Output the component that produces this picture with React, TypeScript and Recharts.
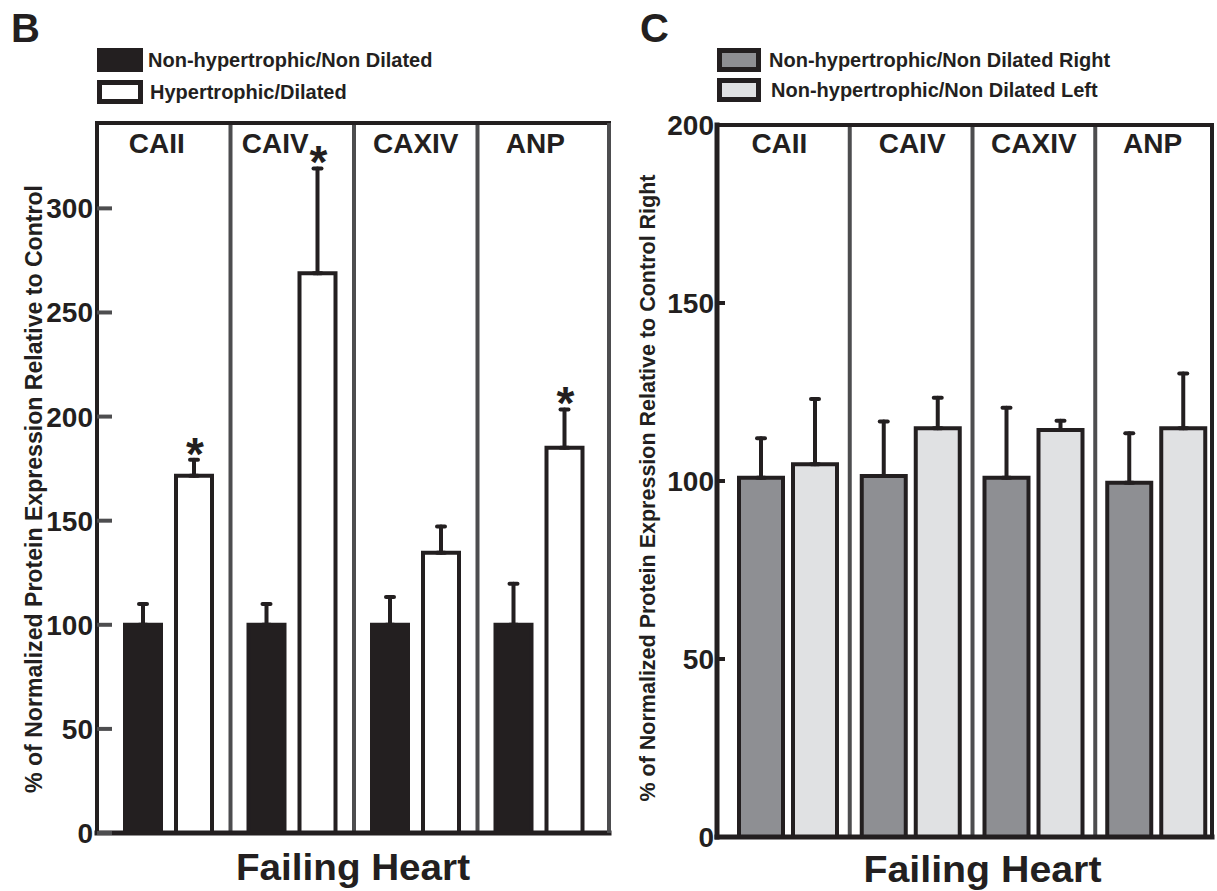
import React from 'react';
import { BarChart, Bar, XAxis, YAxis, ErrorBar, ReferenceLine, Legend, LabelList } from 'recharts';

const categories = ['CAII', 'CAIV', 'CAXIV', 'ANP'];

// Panel B
const bNonHyp = [100, 100, 100, 100];
const bNonHypErr = [10, 10, 13.4, 19.7];
const bHyp = [171.6, 268.8, 134.6, 185];
const bHypErr = [7.7, 50.4, 12.6, 18.4];
const bSignificant = [true, true, false, true];
const bTicks = [0, 50, 100, 150, 200, 250, 300];
const bDomainMax = 341;
const bSeriesOrder = ['nonHyp', 'hyp'];

// Panel C
const cRight = [100.9, 101.4, 100.9, 99.5];
const cRightErr = [11.1, 15.3, 19.7, 13.9];
const cLeft = [104.7, 114.8, 114.3, 114.8];
const cLeftErr = [18.3, 8.6, 2.6, 15.4];
const cTicks = [0, 50, 100, 150, 200];
const cDomainMax = 200;
const cSeriesOrder = ['right', 'left'];

const yLabelB = '% of Normalized Protein Expression Relative to Control';
const yLabelC = '% of Normalized Protein Expression Relative to Control Right';
const xLabel = 'Failing Heart';

// layout: small horizontal nudges of the in-plot category captions (px)
const captionNudgeB = [-12, -17, 0, -4];
const captionNudgeC = [-9, 1, 0, -4];

const dataB = categories.map((cat, i) => ({
  cat,
  nonHyp: bNonHyp[i],
  nonHypErr: [0, bNonHypErr[i]],
  hyp: bHyp[i],
  hypErr: [0, bHypErr[i]],
}));

const dataC = categories.map((cat, i) => ({
  cat,
  right: cRight[i],
  rightErr: [0, cRightErr[i]],
  left: cLeft[i],
  leftErr: [0, cLeftErr[i]],
}));

const FONT = "'Liberation Sans', Arial, Helvetica, sans-serif";
const INK = '#231f20';
const DIV = '#4d4d4f';

const tickFont = { fontSize: 28, fontWeight: 700, fill: INK, fontFamily: FONT };

const CatTick = (props: any) => {
  const { x, y, payload, nudges, shiftY, index } = props;
  const i = typeof payload.index === 'number' ? payload.index : index;
  const dx = (nudges && nudges[i]) || 0;
  return (
    <text
      x={x + dx}
      y={y + shiftY}
      textAnchor="middle"
      fontSize={28}
      fontWeight="bold"
      fontFamily={FONT}
      fill={INK}
    >
      {payload.value}
    </text>
  );
};

const makeYLabel = (text: string, gap: number, shift: number, len: number, size: number) => (props: any) => {
  const vb = props.viewBox || { x: 96, y: 123, width: 1, height: 710 };
  const x = vb.x + vb.width - gap;
  const cy = vb.y + vb.height / 2 + shift;
  return (
    <text
      transform={`translate(${x},${cy}) rotate(-90)`}
      textAnchor="middle"
      style={{ fontSize: size, fontWeight: 700, fontFamily: FONT }}
      fill={INK}
      textLength={len}
      lengthAdjust="spacingAndGlyphs"
    >
      {text}
    </text>
  );
};

const makeXLabel = (text: string, shiftX: number, shiftY: number, len: number) => (props: any) => {
  const vb = props.viewBox;
  return (
    <text
      x={vb.x + vb.width / 2 + shiftX}
      y={vb.y + shiftY}
      textAnchor="middle"
      style={{ fontSize: 36, fontWeight: 700, fontFamily: FONT }}
      fill={INK}
      textLength={len}
      lengthAdjust="spacingAndGlyphs"
    >
      {text}
    </text>
  );
};

const LegendBlock = (props: any) => {
  const { payload, order, letter, letterX, boxX, boxW, boxH, textX, row0, rowStep } = props;
  const items = [...(payload || [])].sort(
    (a: any, b: any) => order.indexOf(a.dataKey) - order.indexOf(b.dataKey)
  );
  return (
    <svg width={600} height={112} style={{ display: 'block' }}>
      <text x={letterX} y={42} fontSize={40} fontWeight="bold" fontFamily={FONT} fill={INK}>
        {letter}
      </text>
      {items.map((p: any, i: number) => {
        const cy = row0 + i * rowStep;
        return (
          <g key={i}>
            <rect x={boxX} y={cy - boxH / 2} width={boxW} height={boxH} fill={p.color} stroke={INK} strokeWidth={5} />
            <text
              x={textX + i * 2}
              y={cy}
              dominantBaseline="central"
              fontSize={20}
              fontWeight="bold"
              fontFamily={FONT}
              fill={INK}
            >
              {p.value}
            </text>
          </g>
        );
      })}
    </svg>
  );
};

const Star = (props: any) => {
  const { x, y, width, height, index } = props;
  if (!bSignificant[index]) return null;
  const pxPerUnit = height / bHyp[index];
  const bottom = y + height;
  const capY = bottom - (bHyp[index] + bHypErr[index]) * pxPerUnit;
  return (
    <text
      x={x + width / 2 + 1}
      y={capY + 10}
      textAnchor="middle"
      fontSize={46}
      fontWeight="bold"
      fontFamily={FONT}
      fill={INK}
    >
      *
    </text>
  );
};

const errProps = { width: 4, strokeWidth: 4, stroke: INK, strokeLinecap: 'round' as any };

export default function App() {
  return (
    <div style={{ position: 'absolute', left: 0, top: 0, width: 1217, height: 891, background: '#fff' }}>
      <div style={{ position: 'absolute', left: 0, top: 0, width: 620, height: 891 }}>
        <BarChart
          width={620}
          height={891}
          data={dataB}
          margin={{ top: 122, right: 10, bottom: 57, left: 96 }}
          barGap={15}
          barSize={36}
        >
          <XAxis
            dataKey="cat"
            height={1}
            tick={false}
            tickLine={false}
            axisLine={{ stroke: INK, strokeWidth: 5, strokeLinecap: 'square' }}
            padding={{ left: 10, right: 8 }}
            label={makeXLabel(xLabel, 0, 47, 234)}
          />
          <XAxis
            xAxisId="top"
            orientation="top"
            dataKey="cat"
            height={1}
            tickLine={false}
            tickSize={0}
            tickMargin={0}
            interval={0}
            axisLine={{ stroke: INK, strokeWidth: 4, strokeLinecap: 'square' }}
            padding={{ left: 10, right: 8 }}
            tick={<CatTick nudges={captionNudgeB} shiftY={30} />}
          />
          <YAxis
            domain={[0, bDomainMax]}
            ticks={bTicks}
            interval={0}
            width={1}
            tickSize={-15}
            tickMargin={19}
            tickLine={{ stroke: DIV, strokeWidth: 4 }}
            axisLine={{ stroke: INK, strokeWidth: 4, strokeLinecap: 'square' }}
            tick={tickFont}
            label={makeYLabel(yLabelB, 55, 11, 608, 23)}
          />
          <YAxis
            yAxisId="right"
            orientation="right"
            domain={[0, bDomainMax]}
            ticks={bTicks}
            width={1}
            tick={false}
            tickLine={false}
            axisLine={{ stroke: DIV, strokeWidth: 4 }}
          />
          {categories.slice(1).map((c) => (
            <ReferenceLine key={c} x={c} position="start" stroke={DIV} strokeWidth={4} />
          ))}
          <Bar
            dataKey="nonHyp"
            name="Non-hypertrophic/Non Dilated"
            fill={INK}
            stroke={INK}
            strokeWidth={4}
            isAnimationActive={false}
          >
            <ErrorBar dataKey="nonHypErr" direction="y" {...errProps} />
          </Bar>
          <Bar
            dataKey="hyp"
            name="Hypertrophic/Dilated"
            fill="#ffffff"
            stroke={INK}
            strokeWidth={4}
            isAnimationActive={false}
          >
            <ErrorBar dataKey="hypErr" direction="y" {...errProps} />
            <LabelList dataKey="hyp" content={<Star />} />
          </Bar>
          <Legend
            layout="vertical"
            verticalAlign="middle"
            align="center"
            wrapperStyle={{ top: 0, left: 0, width: 600, height: 112 }}
            content={
              <LegendBlock
                order={bSeriesOrder}
                letter="B"
                letterX={11}
                boxX={99.5}
                boxW={41}
                boxH={19}
                textX={148}
                row0={60}
                rowStep={32}
              />
            }
          />
        </BarChart>
      </div>
      <div style={{ position: 'absolute', left: 620, top: 0, width: 597, height: 891 }}>
        <BarChart
          width={597}
          height={891}
          data={dataC}
          margin={{ top: 124, right: 4, bottom: 53, left: 96 }}
          barGap={10}
          barSize={44}
        >
          <XAxis
            dataKey="cat"
            height={1}
            tick={false}
            tickLine={false}
            axisLine={{ stroke: INK, strokeWidth: 5, strokeLinecap: 'square' }}
            padding={{ left: 10, right: -6 }}
            label={makeXLabel(xLabel, 18, 45, 238)}
          />
          <XAxis
            xAxisId="top"
            orientation="top"
            dataKey="cat"
            height={1}
            tickLine={false}
            tickSize={0}
            tickMargin={0}
            interval={0}
            axisLine={{ stroke: INK, strokeWidth: 4, strokeLinecap: 'square' }}
            padding={{ left: 10, right: -6 }}
            tick={<CatTick nudges={captionNudgeC} shiftY={28} />}
          />
          <YAxis
            domain={[0, cDomainMax]}
            ticks={cTicks}
            interval={0}
            width={1}
            tickSize={-8}
            tickMargin={11}
            tickLine={{ stroke: INK, strokeWidth: 4 }}
            axisLine={{ stroke: INK, strokeWidth: 5, strokeLinecap: 'square' }}
            tick={tickFont}
            label={makeYLabel(yLabelC, 62, 7, 627, 22)}
          />
          <YAxis
            yAxisId="right"
            orientation="right"
            domain={[0, cDomainMax]}
            ticks={cTicks}
            width={1}
            tick={false}
            tickLine={false}
            axisLine={{ stroke: INK, strokeWidth: 4 }}
          />
          {categories.slice(1).map((c) => (
            <ReferenceLine key={c} x={c} position="start" stroke={DIV} strokeWidth={4} />
          ))}
          <Bar
            dataKey="right"
            name="Non-hypertrophic/Non Dilated Right"
            fill="#8e8f93"
            stroke={INK}
            strokeWidth={4}
            isAnimationActive={false}
          >
            <ErrorBar dataKey="rightErr" direction="y" {...errProps} />
          </Bar>
          <Bar
            dataKey="left"
            name="Non-hypertrophic/Non Dilated Left"
            fill="#e0e1e3"
            stroke={INK}
            strokeWidth={4}
            isAnimationActive={false}
          >
            <ErrorBar dataKey="leftErr" direction="y" {...errProps} />
          </Bar>
          <Legend
            layout="vertical"
            verticalAlign="middle"
            align="center"
            wrapperStyle={{ top: 0, left: 0, width: 597, height: 112 }}
            content={
              <LegendBlock
                order={cSeriesOrder}
                letter="C"
                letterX={20}
                boxX={99.5}
                boxW={39}
                boxH={19}
                textX={149}
                row0={60}
                rowStep={30}
              />
            }
          />
        </BarChart>
      </div>
    </div>
  );
}
